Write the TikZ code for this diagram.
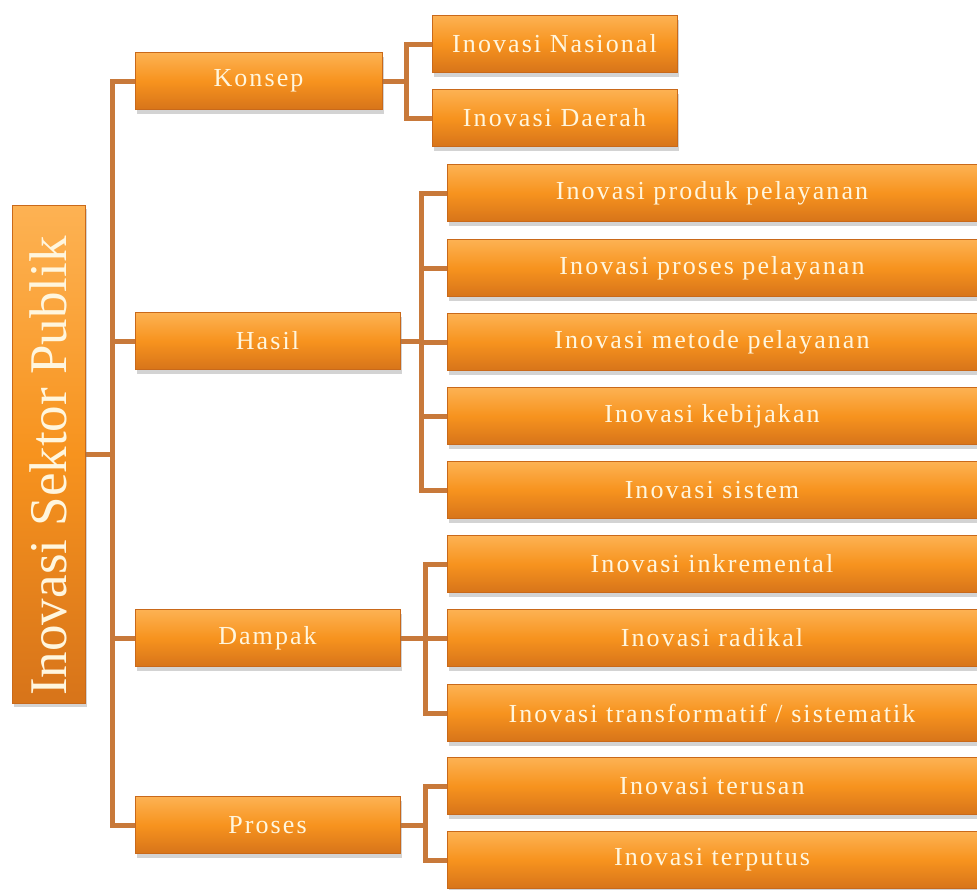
\documentclass[tikz,border=0pt]{standalone}
\usepackage{fontspec}
\setmainfont{Liberation Serif}
\newfontfamily\boxfont[LetterSpace=8]{Liberation Serif}
\usetikzlibrary{positioning, shadows, backgrounds}
\definecolor{boxmid}{HTML}{F7931E}
\definecolor{boxtop}{HTML}{FDB253}
\definecolor{boxbot}{HTML}{D7741A}
\definecolor{boxline}{HTML}{C9691A}
\definecolor{linkc}{HTML}{C8793A}
\definecolor{textc}{HTML}{FFF6DE}
\tikzset{
box/.style={rectangle, draw=boxline, line width=0.8pt,
  top color=boxtop, bottom color=boxbot, middle color=boxmid,
  text=textc, inner sep=0pt, minimum height=57,
  font=\boxfont\fontsize{26}{30}\selectfont,
  drop shadow={opacity=0.35, shadow xshift=2pt, shadow yshift=-4pt}},
link/.style={draw=linkc, line width=5pt},
}

\begin{document}
\begin{tikzpicture}[x=1pt, y=-1pt]
\useasboundingbox (0,0) rectangle (977,889);
    \node[box, rotate=90, minimum width=498, minimum height=73,
      font=\fontsize{53}{60}\selectfont] (root) at (48.5,454) {Inovasi Sektor Publik\hspace*{24pt}};

    \node[box, minimum width=247] (konsep) at (258.5,81) {Konsep};
    \node[box, minimum width=265] (hasil) at (267.5,341) {Hasil};
    \node[box, minimum width=265] (dampak) at (267.5,638) {Dampak};
    \node[box, minimum width=265] (proses) at (267.5,825) {Proses};

    \node[box, minimum width=245] (nasional) at (554.5,44) {Inovasi Nasional};
    \node[box, minimum width=245] (daerah) at (554.5,118) {Inovasi Daerah};

    \node[box, minimum width=530] (produk) at (712,193) {Inovasi produk pelayanan};
    \node[box, minimum width=530] (prosesp) at (712,268) {Inovasi proses pelayanan};
    \node[box, minimum width=530] (metode) at (712,342) {Inovasi metode pelayanan};
    \node[box, minimum width=530] (kebijakan) at (712,416) {Inovasi kebijakan};
    \node[box, minimum width=530] (sistem) at (712,490) {Inovasi sistem};

    \node[box, minimum width=530] (inkremental) at (712,564) {Inovasi inkremental};
    \node[box, minimum width=530] (radikal) at (712,638) {Inovasi radikal};
    \node[box, minimum width=530] (transformatif) at (712,713) {Inovasi transformatif / sistematik};

    \node[box, minimum width=530] (terusan) at (712,786) {Inovasi terusan};
    \node[box, minimum width=530] (terputus) at (712,860) {Inovasi terputus};

    % junctions
    \coordinate (t) at (112,454);
    \coordinate (kj) at (406,81);
    \coordinate (hj) at (421,341);
    \coordinate (dj) at (425,638);
    \coordinate (pj) at (425,825);

    \begin{pgfonlayer}{background}
    \draw[link] (root) -- (t);
    \draw[link] (konsep.west) -| (t) |- (proses.west);
    \draw[link] (hasil.west) -- (hasil.west -| t);
    \draw[link] (dampak.west) -- (dampak.west -| t);

    \draw[link] (konsep.east) -- (kj);
    \draw[link] (nasional.west) -| (kj) |- (daerah.west);

    \draw[link] (hasil.east) -- (hj);
    \draw[link] (produk.west) -| (hj) |- (sistem.west);
    \draw[link] (prosesp.west) -- (prosesp.west -| hj);
    \draw[link] (metode.west) -- (metode.west -| hj);
    \draw[link] (kebijakan.west) -- (kebijakan.west -| hj);

    \draw[link] (dampak.east) -- (dj);
    \draw[link] (inkremental.west) -| (dj) |- (transformatif.west);
    \draw[link] (radikal.west) -- (radikal.west -| dj);

    \draw[link] (proses.east) -- (pj);
    \draw[link] (terusan.west) -| (pj) |- (terputus.west);
    \end{pgfonlayer}
\end{tikzpicture}
\end{document}
